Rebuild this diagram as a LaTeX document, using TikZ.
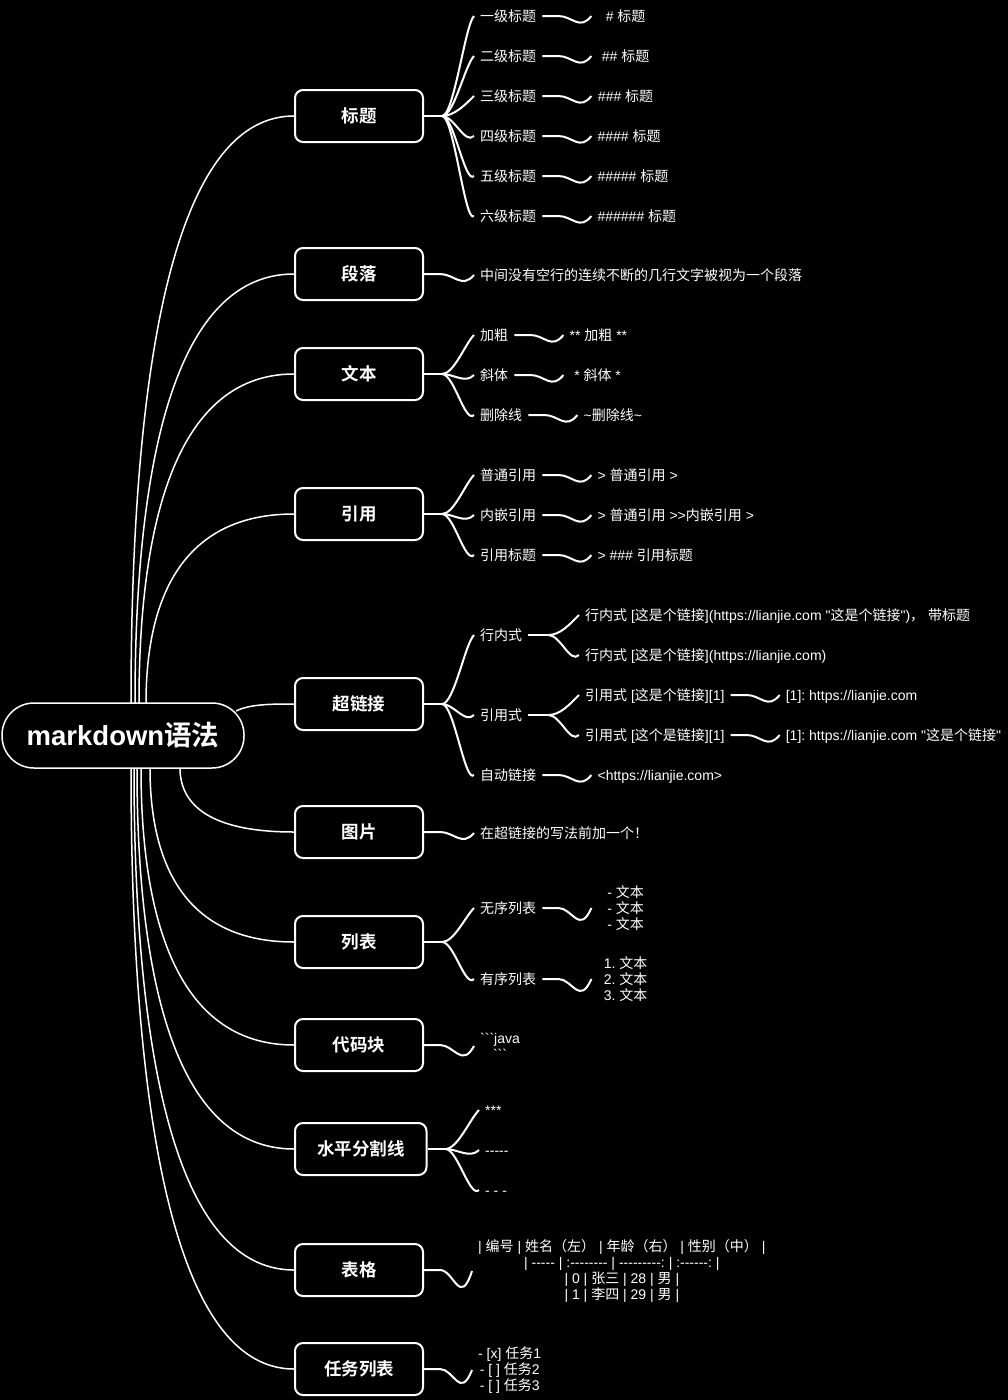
\documentclass[tikz,border=0pt]{standalone}
\usepackage{fontspec}
\setmainfont{Liberation Sans}[Ligatures=TeXOff]
\newfontfamily\cjkfont{Noto Sans CJK SC}[BoldFont={Noto Sans CJK SC Bold}]
\usetikzlibrary{calc,positioning}
\frenchspacing
\XeTeXinterchartokenstate=1
\newXeTeXintercharclass\cjkcls
\makeatletter
\count@="3000
\loop\XeTeXcharclass\count@=\cjkcls\advance\count@\@ne\ifnum\count@<"3040 \repeat
\count@="4E00
\loop\XeTeXcharclass\count@=\cjkcls\advance\count@\@ne\ifnum\count@<"A000 \repeat
\count@="FF00
\loop\XeTeXcharclass\count@=\cjkcls\advance\count@\@ne\ifnum\count@<"FFF0 \repeat
\makeatother
\XeTeXinterchartoks 0 \cjkcls = {\begingroup\cjkfont}
\XeTeXinterchartoks 4095 \cjkcls = {\begingroup\cjkfont}
\XeTeXinterchartoks \cjkcls 0 = {\endgroup}
\XeTeXinterchartoks \cjkcls 4095 = {\endgroup}

\newcommand\rootlink[2]{\draw[mainc] (#1) .. controls ($(#1)!0.5!(#1|-#2.west)$) and ($(#1|-#2.west)!0.2!(#2.west)$) .. (#2.west);}
\newcommand\fanto[2]{\draw[subc] (#1) .. controls ($(#1)+(12,0)$) and ($(#2.west)+(-9,9)$) .. (#2.west);}
\newcommand\wavy[3]{\draw[subc] (#2.east) -- ++(16,0) .. controls +(14,0) and ($(#3.west)+(-12,#1)$) .. (#3.west);}

\begin{document}
\frenchspacing
\begin{tikzpicture}[x=1pt,y=-1pt,
  every node/.style={text=white},
  root/.style={draw=white, line width=1.5pt, fill=black, rounded corners=32pt,
    minimum width=242pt, minimum height=65pt, inner sep=0pt,
    font=\fontsize{27.5}{30}\selectfont\bfseries, text height=21pt, text depth=1pt},
  branch/.style={draw=white, line width=2pt, fill=black, rounded corners=8pt,
    minimum width=128pt, minimum height=52pt, inner xsep=22pt, inner ysep=0pt,
    font=\fontsize{17.5}{20}\selectfont\bfseries, text height=14pt, text depth=1pt, anchor=west},
  lab/.style={inner xsep=6pt, inner ysep=0pt, font=\fontsize{14}{16}\selectfont\frenchspacing,
    text height=11pt, text depth=0.5pt, anchor=west},
  val/.style={lab, minimum width=68pt},
  mval/.style={inner xsep=6pt, inner ysep=0pt, font=\fontsize{14}{16}\selectfont\frenchspacing,
    align=center, anchor=west},
  mainc/.style={draw=white, line width=1.5pt},
  subc/.style={draw=white, line width=2pt},
]
\fill[black] (0,0) rectangle (1008,1400);
\useasboundingbox (0,0) rectangle (1008,1400);

% root and branches
\node[root] (root) at (123,735.5) {markdown语法};
\node[branch] (b1) at (294,116) {标题};
\node[branch] (b2) at (294,274) {段落};
\node[branch] (b3) at (294,374) {文本};
\node[branch] (b4) at (294,514) {引用};
\node[branch] (b5) at (294,704) {超链接};
\node[branch] (b6) at (294,832) {图片};
\node[branch] (b7) at (294,942) {列表};
\node[branch] (b8) at (294,1045) {代码块};
\node[branch] (b9) at (294,1149) {水平分割线};
\node[branch] (b10) at (294,1270) {表格};
\node[branch] (b11) at (294,1369) {任务列表};

% root connectors
\coordinate (r1) at (131,703);
\coordinate (r2) at (135,703);
\coordinate (r3) at (139,703);
\coordinate (r4) at (146,703);
\coordinate (r5) at (236,711);
\coordinate (r6) at (180,768);
\coordinate (r7) at (150,768);
\coordinate (r8) at (141,768);
\coordinate (r9) at (137,768);
\coordinate (r10) at (134,768);
\coordinate (r11) at (131,768);
\rootlink{r1}{b1}
\rootlink{r2}{b2}
\rootlink{r3}{b3}
\rootlink{r4}{b4}
\draw[mainc] (r5) .. controls ($(r5)+(14,-7)$) and ($(b5.west)+(-22,0)$) .. (b5.west);
\rootlink{r6}{b6}
\rootlink{r7}{b7}
\rootlink{r8}{b8}
\rootlink{r9}{b9}
\rootlink{r10}{b10}
\rootlink{r11}{b11}

% 标题
\coordinate (j1) at ($(b1.east)+(18,0)$);
\draw[subc] (b1.east) -- (j1);
\node[lab] (l11) at (474,16) {一级标题};
\node[lab] (l12) at (474,56) {二级标题};
\node[lab] (l13) at (474,96) {三级标题};
\node[lab] (l14) at (474,136) {四级标题};
\node[lab] (l15) at (474,176) {五级标题};
\node[lab] (l16) at (474,216) {六级标题};
\node[val, right=49pt of l11] (v11) {\# 标题};
\node[val, right=49pt of l12] (v12) {\#\# 标题};
\node[val, right=49pt of l13] (v13) {\#\#\# 标题};
\node[val, right=49pt of l14] (v14) {\#\#\#\# 标题};
\node[val, right=49pt of l15] (v15) {\#\#\#\#\# 标题};
\node[val, right=49pt of l16] (v16) {\#\#\#\#\#\# 标题};
\foreach \i in {1,...,6} {\fanto{j1}{l1\i} \wavy{15}{l1\i}{v1\i}}

% 段落
\node[lab] (l21) at (474,275) {中间没有空行的连续不断的几行文字被视为一个段落};
\wavy{14}{b2}{l21}

% 文本
\coordinate (j3) at ($(b3.east)+(18,0)$);
\draw[subc] (b3.east) -- (j3);
\node[lab] (l31) at (474,335) {加粗};
\node[lab] (l32) at (474,375) {斜体};
\node[lab] (l33) at (474,415) {删除线};
\node[val, right=49pt of l31] (v31) {** 加粗 **};
\node[val, right=49pt of l32] (v32) {* 斜体 *};
\node[val, right=49pt of l33] (v33) {\textasciitilde 删除线\textasciitilde};
\foreach \i in {1,2,3} {\fanto{j3}{l3\i} \wavy{15}{l3\i}{v3\i}}

% 引用
\coordinate (j4) at ($(b4.east)+(18,0)$);
\draw[subc] (b4.east) -- (j4);
\node[lab] (l41) at (474,475) {普通引用};
\node[lab] (l42) at (474,515) {内嵌引用};
\node[lab] (l43) at (474,555) {引用标题};
\node[val, right=49pt of l41] (v41) {> 普通引用 >};
\node[val, right=49pt of l42] (v42) {> 普通引用 >>内嵌引用 >};
\node[val, right=49pt of l43] (v43) {> \#\#\# 引用标题};
\foreach \i in {1,2,3} {\fanto{j4}{l4\i} \wavy{15}{l4\i}{v4\i}}

% 超链接
\coordinate (j5) at ($(b5.east)+(18,0)$);
\draw[subc] (b5.east) -- (j5);
\node[lab] (l51) at (474,635) {行内式};
\node[lab] (l52) at (474,715) {引用式};
\node[lab] (l53) at (474,775) {自动链接};
\node[val, right=49pt of l53] (v53) {<https://lianjie.com>};
\foreach \i in {1,2,3} {\fanto{j5}{l5\i}}
\wavy{15}{l53}{v53}
\coordinate (j51) at ($(l51.east)+(20,0)$);
\draw[subc] (l51.east) -- (j51);
\node[lab] (l511) at (579,615) {行内式 [这是个链接](https://lianjie.com "这是个链接")， 带标题};
\node[lab] (l512) at (579,655) {行内式 [这是个链接](https://lianjie.com)};
\fanto{j51}{l511}
\fanto{j51}{l512}
\coordinate (j52) at ($(l52.east)+(20,0)$);
\draw[subc] (l52.east) -- (j52);
\node[lab] (l521) at (579,695) {引用式 [这是个链接][1]};
\node[lab] (l522) at (579,735) {引用式 [这个是链接][1]};
\fanto{j52}{l521}
\fanto{j52}{l522}
\node[val, right=49pt of l521] (v521) {[1]: https://lianjie.com};
\node[val, right=49pt of l522] (v522) {[1]: https://lianjie.com "这是个链接"};
\wavy{15}{l521}{v521}
\wavy{15}{l522}{v522}

% 图片
\node[lab] (l61) at (474,833) {在超链接的写法前加一个！};
\wavy{14}{b6}{l61}

% 列表
\coordinate (j7) at ($(b7.east)+(18,0)$);
\draw[subc] (b7.east) -- (j7);
\node[lab] (l71) at (474,908) {无序列表};
\node[lab] (l72) at (474,979) {有序列表};
\node[mval, minimum width=68pt, right=49pt of l71] (v71) {- 文本\\- 文本\\- 文本};
\node[mval, minimum width=68pt, right=49pt of l72] (v72) {1. 文本\\2. 文本\\3. 文本};
\fanto{j7}{l71}
\fanto{j7}{l72}
\wavy{27}{l71}{v71}
\wavy{27}{l72}{v72}

% 代码块
\node[mval] (l81) at (474,1046) {```java\\```};
\wavy{22}{b8}{l81}

% 水平分割线
\coordinate (j9) at ($(b9.east)+(18,0)$);
\draw[subc] (b9.east) -- (j9);
\node[lab] (l91) at (479,1110) {***};
\node[lab] (l92) at (479,1150) {-----};
\node[lab] (l93) at (479,1190) {- - -};
\foreach \i in {1,2,3} {\fanto{j9}{l9\i}}

% 表格
\node[mval] (l101) at (472,1271) {| 编号 | 姓名（左） | 年龄（右） | 性别（中） |\\| ----- | :-------- | ---------: | :------: |\\| 0 | 张三 | 28 | 男 |\\| 1 | 李四 | 29 | 男 |};
\wavy{37}{b10}{l101}

% 任务列表
\node[mval] (l111) at (472,1370) {- [x] 任务1\\- [ ] 任务2\\- [ ] 任务3};
\wavy{30}{b11}{l111}
\end{tikzpicture}
\end{document}
